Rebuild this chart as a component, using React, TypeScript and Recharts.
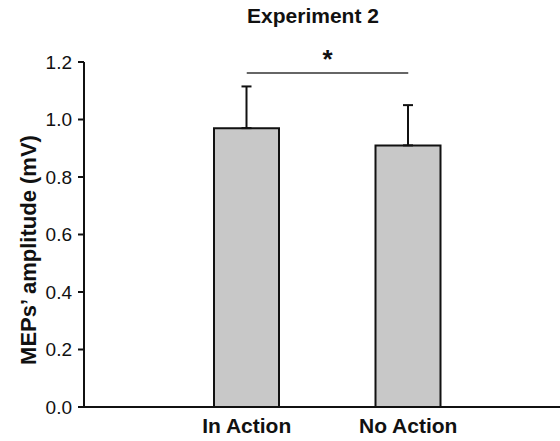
import { Bar, BarChart, ErrorBar, ReferenceLine, XAxis, YAxis } from "recharts";

const conditions = ["In Action", "No Action"];
const amplitudes = [0.97, 0.91];
const upperErrors = [0.145, 0.14];
const yTicks = [0, 0.2, 0.4, 0.6, 0.8, 1.0, 1.2];
const sigLevel = 1.162;

const data = conditions.map((name, i) => ({
  name,
  value: amplitudes[i],
  err: [0, upperErrors[i]],
}));

const font = "'Liberation Sans', Arial, sans-serif";

const YLabel = () => (
  <text
    x={28}
    y={250}
    transform="rotate(-90, 28, 250)"
    textAnchor="middle"
    dominantBaseline="central"
    fontFamily={font}
    fontWeight="bold"
    fontSize={22}
    fill="#111"
  >
    MEPs’ amplitude (mV)
  </text>
);

export default function App() {
  return (
    <div style={{ position: "absolute", left: 0, top: 0, width: 560, height: 441, background: "#fff" }}>
      <div
        style={{
          position: "absolute",
          top: 4,
          left: 0,
          width: 626,
          textAlign: "center",
          fontFamily: font,
          fontWeight: "bold",
          fontSize: 21,
          color: "#111",
        }}
      >
        Experiment 2
      </div>
      <BarChart
        width={560}
        height={441}
        data={data}
        margin={{ top: 62, right: 0, bottom: 0, left: 0 }}
        barSize={65}
      >
        <XAxis
          dataKey="name"
          height={34}
          padding={{ left: 82, right: 71 }}
          axisLine={{ stroke: "#111", strokeWidth: 2 }}
          tickLine={false}
          tick={{ fill: "#111", fontFamily: font, fontWeight: "bold", fontSize: 21 }}
          tickMargin={5}
        />
        <YAxis
          width={84}
          domain={[0, 1.2]}
          ticks={yTicks}
          tickFormatter={(v: number) => v.toFixed(1)}
          axisLine={{ stroke: "#111", strokeWidth: 2 }}
          tickLine={{ stroke: "#111", strokeWidth: 2 }}
          tickSize={6}
          tickMargin={6}
          tick={{ fill: "#111", fontFamily: font, fontSize: 19 }}
          label={<YLabel />}
        />
        <ReferenceLine
          segment={[
            { x: conditions[0], y: sigLevel },
            { x: conditions[1], y: sigLevel },
          ]}
          stroke="#666"
          strokeWidth={2}
          ifOverflow="visible"
          label={{ value: "*", position: "top", fill: "#111", fontSize: 26, fontWeight: "bold", fontFamily: font }}
        />
        <Bar dataKey="value" fill="#c8c8c8" stroke="#111" strokeWidth={2} isAnimationActive={false}>
          <ErrorBar dataKey="err" direction="y" width={5} stroke="#111" strokeWidth={2} />
        </Bar>
      </BarChart>
    </div>
  );
}
